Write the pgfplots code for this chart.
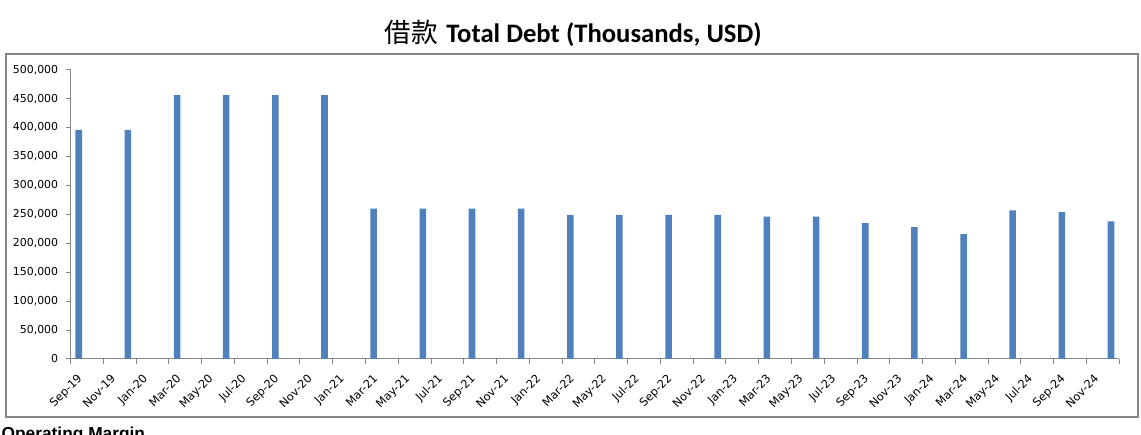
\documentclass[border=0pt]{standalone}
\usepackage{fontspec}
\usepackage{pgfplots}
\pgfplotsset{compat=1.18}
\setmainfont{DejaVu Sans}
\newfontfamily\cjk{Noto Sans CJK SC}
\newfontfamily\carlito{Carlito}
\newfontfamily\arialb{Liberation Sans}
\definecolor{barblue}{HTML}{4F81BD}
\definecolor{axgray}{HTML}{868686}
\pgfplotstableread{
x y
0.5 396000
3.5 396000
6.5 456000
9.5 456000
12.5 456000
15.5 456000
18.5 260000
21.5 260000
24.5 260000
27.5 260000
30.5 249000
33.5 249000
36.5 249000
39.5 249000
42.5 246000
45.5 246000
48.5 235000
51.5 228000
54.5 216000
57.5 257000
60.5 254000
63.5 238000
}\debt
\begin{document}
\begin{tikzpicture}
\useasboundingbox (0pt,0pt) rectangle (855.75pt,326.25pt);
\clip (0pt,0pt) rectangle (855.75pt,326.25pt);
\fill[white] (0pt,0pt) rectangle (855.75pt,326.25pt);
\draw[axgray, line width=0.9pt] (4.5pt,13.5pt) rectangle (853.5pt,285.75pt);
\node[font=\fontsize{20}{24}\selectfont] at (429.75pt,301.5pt) {{\cjk 借款} {\carlito\bfseries Total Debt (Thousands, USD)}};
\node[anchor=north west, inner sep=0, font=\arialb\bfseries\fontsize{13}{15}\selectfont] at (1.0pt,6.4pt) {Operating Margin};
\begin{axis}[
  at={(52.9pt,57.0pt)}, anchor=south west, scale only axis,
  width=786.5pt, height=217pt,
  ybar, bar width=0.4,
  xmin=0, xmax=64, ymin=0, ymax=500000,
  axis lines*=left,
  axis line style={axgray, line width=0.75pt},
  tick align=outside, major tick length=3.75pt,
  tick style={axgray, line width=0.75pt},
  ytick={0,50000,...,500000},
  scaled y ticks=false,
  /pgf/number format/.cd, fixed, 1000 sep={,}, assume math mode=true,
  /pgfplots/.cd,
  yticklabel style={font=\fontsize{8.2}{9}\selectfont, text=black, xshift=-2pt},
  xtick={0,2,...,64},
  xticklabels={Sep-19,Nov-19,Jan-20,Mar-20,May-20,Jul-20,Sep-20,Nov-20,Jan-21,Mar-21,May-21,Jul-21,Sep-21,Nov-21,Jan-22,Mar-22,May-22,Jul-22,Sep-22,Nov-22,Jan-23,Mar-23,May-23,Jul-23,Sep-23,Nov-23,Jan-24,Mar-24,May-24,Jul-24,Sep-24,Nov-24,{}},
  xticklabel style={font=\fontsize{8.5}{9}\selectfont, text=black, xshift=7.5pt, yshift=-9.5pt, rotate=45, anchor=east, inner sep=0pt},
]
\addplot[fill=barblue, draw=none] table[x=x, y=y] {\debt};
\end{axis}
\end{tikzpicture}
\end{document}
